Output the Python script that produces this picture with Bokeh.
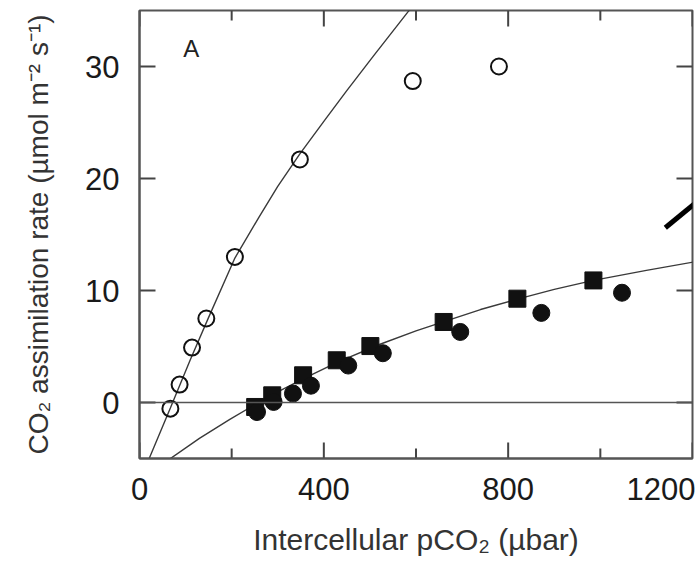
from bokeh.plotting import figure
from bokeh.models import FixedTicker, Span, Label, Range1d
from bokeh.embed import file_html
from bokeh.resources import INLINE

# ---- data ----
open_x = [67, 87, 114, 145, 207, 348, 593, 780]
open_y = [-0.55, 1.6, 4.9, 7.5, 13.0, 21.7, 28.7, 30.0]

sq_x = [251, 288, 355, 428, 501, 660, 820, 985]
sq_y = [-0.4, 0.64, 2.43, 3.77, 5.04, 7.19, 9.27, 10.9]

circ_x = [255, 291, 333, 372, 453, 528, 696, 872, 1047]
circ_y = [-0.85, 0.05, 0.8, 1.5, 3.3, 4.4, 6.3, 8.0, 9.8]

# fitted curves as drawn in the reference
open_fit_x = [20, 67, 110, 150, 207, 260, 300, 348, 400, 449, 507, 583, 610]
open_fit_y = [-5.1, -0.5, 3.8, 7.6, 12.9, 16.6, 19.3, 22.2, 25.1, 27.8, 30.9, 34.9, 36.2]

filled_fit_x = [62, 130, 196, 250, 300, 355, 430, 522, 600, 659, 740, 822, 900, 985, 1100, 1210]
filled_fit_y = [-5.15, -3.2, -1.5, -0.2, 0.95, 2.1, 3.6, 5.2, 6.4, 7.2, 8.3, 9.25, 10.1, 10.9, 11.8, 12.6]

x_major = [0, 400, 800, 1200]
x_minor = [200, 600, 1000]
y_major = [0, 10, 20, 30]
X0, X1 = 0, 1200
Y0, Y1 = -5, 35

FONT = "Liberation Sans"
FRAME = "#555555"
TICK = "#444444"

W, H = 695, 562
BL, BR, BT, BB = 139, 3, 10, 104

p = figure(width=W, height=H, x_range=Range1d(X0, X1), y_range=Range1d(Y0, Y1),
           output_backend="svg", toolbar_location=None,
           min_border_left=BL, min_border_right=BR, min_border_top=BT, min_border_bottom=BB)
p.grid.visible = False
p.outline_line_color = FRAME
p.outline_line_width = 2
p.background_fill_color = "white"
p.border_fill_color = "white"

for ax in (p.xaxis[0], p.yaxis[0]):
    ax.axis_line_color = FRAME
    ax.axis_line_width = 2
    ax.major_tick_in = 0
    ax.major_tick_out = 0
    ax.minor_tick_in = 0
    ax.minor_tick_out = 0
    ax.major_label_text_font = FONT
    ax.major_label_text_font_size = "31px"
    ax.major_label_text_color = "#1a1a1a"
    ax.axis_label_text_font = FONT
    ax.axis_label_text_font_style = "normal"
    ax.axis_label_text_color = "#333333"

xb = p.xaxis[0]
xb.ticker = FixedTicker(ticks=x_major, minor_ticks=x_minor)
xb.major_label_standoff = 19
xb.axis_label = "Intercellular pCO₂ (µbar)"
xb.axis_label_text_font_size = "30px"
xb.axis_label_standoff = 20

yl = p.yaxis[0]
yl.ticker = FixedTicker(ticks=y_major, minor_ticks=[])
yl.major_label_standoff = 20
yl.axis_label = "CO₂ assimilation rate (µmol m⁻² s⁻¹)"
yl.axis_label_text_font_size = "28px"
yl.axis_label_standoff = 28

# inward tick marks: short black bars drawn as rects whose size is in screen pixels
MAJ, MIN = 16, 10
TW = 2
ux = (X1 - X0) / (W - BL - BR)   # data units per pixel, x
uy = (Y1 - Y0) / (H - BT - BB)   # data units per pixel, y
p.rect(x=[X0 + MAJ * ux / 2] * len(y_major), y=list(y_major), width=MAJ, height=TW,
       width_units="screen", height_units="screen", fill_color=TICK, line_color=None)
p.rect(x=[X1 - MAJ * ux / 2] * len(y_major), y=list(y_major), width=MAJ, height=TW,
       width_units="screen", height_units="screen", fill_color=TICK, line_color=None)
p.rect(x=list(x_major), y=[Y0 + MAJ * uy / 2] * len(x_major), width=TW, height=MAJ,
       width_units="screen", height_units="screen", fill_color=TICK, line_color=None)
p.rect(x=list(x_major), y=[Y1 - MAJ * uy / 2] * len(x_major), width=TW, height=MAJ,
       width_units="screen", height_units="screen", fill_color=TICK, line_color=None)
p.rect(x=list(x_minor), y=[Y0 + MIN * uy / 2] * len(x_minor), width=TW, height=MIN,
       width_units="screen", height_units="screen", fill_color=TICK, line_color=None)
p.rect(x=list(x_minor), y=[Y1 - MIN * uy / 2] * len(x_minor), width=TW, height=MIN,
       width_units="screen", height_units="screen", fill_color=TICK, line_color=None)

# zero line
p.add_layout(Span(location=0, dimension="width", line_color=FRAME, line_width=1.5))

# fitted curves
p.line(open_fit_x, open_fit_y, line_color="#3a3a3a", line_width=1.4)
p.line(filled_fit_x, filled_fit_y, line_color="#3a3a3a", line_width=1.4)

# data
p.scatter(open_x, open_y, marker="circle", size=16, fill_alpha=0,
          line_color="#111111", line_width=2)
p.scatter(sq_x, sq_y, marker="square", size=17, fill_color="#111111", line_color="#111111")
p.scatter(circ_x, circ_y, marker="circle", size=17, fill_color="#111111", line_color="#111111")

# leader line from neighbouring panel (visible at the right edge)
p.segment(x0=[1141], y0=[15.6], x1=[1215], y1=[18.1], line_color="black", line_width=5)

# panel letter
p.add_layout(Label(x=95, y=32.8, text="A", text_font=FONT, text_font_size="24px",
                   text_color="#222222", text_baseline="top", text_align="left"))

open("out.html", "w").write(file_html(p, INLINE))
